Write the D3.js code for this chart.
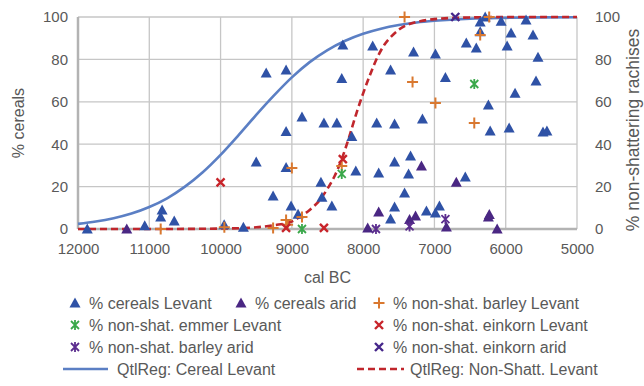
<!DOCTYPE html>
<html><head><meta charset="utf-8">
<script src="https://cdn.jsdelivr.net/npm/d3@7"></script>
<style>body{margin:0;background:#fff}svg{display:block;font-family:"Liberation Sans",Arial,sans-serif}</style>
</head><body><svg id="c" width="644" height="386"></svg>
<script>
// ---- data: [year cal BC, percent] ----
const xTicks = [12000, 11000, 10000, 9000, 8000, 7000, 6000, 5000];
const yTicks = [0, 20, 40, 60, 80, 100];
const cerealsLevant = [[11870,0],[11064,1.5],[10820,9],[10840,5.7],[10650,3.8],[9950,2],[9680,0.8],[9500,31.6],
 [9360,73.6],[9081,75],[9081,46],[9081,29],[9263,15.6],[9011,10.8],[8913,7],[8858,52.8],[8592,22],[8578,15],
 [8550,50],[8369,50],[8439,10.8],[8285,86.8],[8300,71],[8159,43.6],[8103,27.4],[7866,86.3],[7810,50],[7782,26.4],
 [7615,75],[7559,49.5],[7559,31.6],[7559,10.4],[7615,4.7],[7335,34.4],[7363,26],[7419,17],[7293,83.5],[7168,51.9],
 [7112,8.5],[6986,82.5],[6986,7.5],[6930,10.8],[6846,71.5],[6567,24.5],[6553,87.7],[6413,85.4],[6358,97.6],[6358,93],
 [6288,100],[6243,58.5],[6218,46.2],[6064,98],[5980,86.3],[5952,47.6],[5925,92.5],[5869,64],[5715,98.6],[5617,91.5],
 [5575,69.8],[5547,81],[5477,45.8],[5422,46.2]];
const cerealsArid = [[11316,0],[7936,0.5],[7782,8],[7349,4.5],[7265,6.1],[7182,29.7],[6693,22],[6832,1],[6243,5.7],[6230,6.8],[6120,0]];
const barleyLevant = [[10840,0],[9947,0.8],[9263,0.5],[9081,4.2],[9060,2],[8858,5.7],[9000,28.8],[8300,29.7],
 [7419,100],[7307,69.3],[6986,59.4],[6441,50],[6358,91.5],[6232,100]];
const emmerLevant = [[8858,0],[8300,26],[6441,68.4]];
const einkornLevant = [[10000,22],[9081,0.5],[8550,0.5],[8285,33]];
const barleyArid = [[7820,0],[7349,1.2],[6846,4.7]];
const einkornArid = [[6707,100]];
const qtlCereal = [[12000,2.4],[11750,3.5],[11500,5.1],[11250,7.3],[11000,10.4],[10750,14.5],[10500,20],[10250,26.8],
 [10000,35],[9750,44.2],[9500,53.8],[9250,63],[9000,71.5],[8750,78.7],[8500,84.4],[8250,88.8],[8000,92.1],[7750,94.5],
 [7500,96.2],[7250,97.4],[7000,98.2],[6500,99.2],[6000,99.6],[5500,99.8],[5000,99.9]];
const qtlNonShatt = [[12000,0],[11000,0],[10000,0.2],[9500,0.8],[9250,1.8],[9000,3.5],[8900,5.5],[8750,9],[8600,14],
 [8500,19],[8400,25],[8300,33],[8200,43],[8100,54],[8000,64],[7900,73],[7800,81],[7700,87],[7600,91],[7500,94],
 [7400,96],[7200,98],[7000,99],[6500,99.8],[6000,100],[5000,100]];

// ---- layout ----
const svg = d3.select("#c");
const L = 78, R = 577, T = 17, B = 229;
const x = d3.scaleLinear().domain([12000, 5000]).range([L, R]);
const y = d3.scaleLinear().domain([0, 100]).range([B, T]);
const txt = "#595959";

// grid
svg.append("g").selectAll("line").data(xTicks).join("line")
  .attr("x1", d => x(d)).attr("x2", d => x(d)).attr("y1", T).attr("y2", B)
  .attr("stroke", "#c6c6c6").attr("stroke-width", 1.3);
svg.append("g").selectAll("line").data(yTicks).join("line")
  .attr("x1", L).attr("x2", R).attr("y1", d => y(d)).attr("y2", d => y(d))
  .attr("stroke", "#c6c6c6").attr("stroke-width", 1.3);
svg.append("line").attr("x1", L).attr("x2", L).attr("y1", T).attr("y2", B).attr("stroke", "#b3b3b3").attr("stroke-width", 2.5);
svg.append("line").attr("x1", L).attr("x2", R).attr("y1", B).attr("y2", B).attr("stroke", "#b3b3b3").attr("stroke-width", 2.5);

// axes
const ax = svg.append("g").attr("transform", `translate(0,${B})`)
  .call(d3.axisBottom(x).tickValues(xTicks).tickFormat(d3.format("d")).tickSize(0).tickPadding(14));
const ayl = svg.append("g").attr("transform", `translate(${L},0)`)
  .call(d3.axisLeft(y).tickValues(yTicks).tickSize(0).tickPadding(10));
const ayr = svg.append("g").attr("transform", `translate(${R},0)`)
  .call(d3.axisRight(y).tickValues(yTicks).tickSize(0).tickPadding(18));
[ax, ayl, ayr].forEach(g => {
  g.select(".domain").remove();
  g.selectAll("text").attr("fill", txt).style("font-size", "15px").style("font-family", '"Liberation Sans",Arial,sans-serif');
});

svg.append("text").attr("x", (L + R) / 2).attr("y", 283).attr("text-anchor", "middle")
  .attr("fill", txt).style("font-size", "16px").text("cal BC");
svg.append("text").attr("transform", `translate(24,${(T + B) / 2}) rotate(-90)`).attr("text-anchor", "middle")
  .attr("fill", txt).style("font-size", "16px").text("% cereals");
svg.append("text").attr("transform", `translate(639,130) rotate(-90)`).attr("text-anchor", "middle")
  .attr("fill", txt).style("font-size", "17.5px").text("% non-shattering rachises");

// curves
const line = d3.line().x(d => x(d[0])).y(d => y(d[1])).curve(d3.curveMonotoneX);
svg.append("path").datum(qtlCereal).attr("d", line).attr("fill", "none").attr("stroke", "#5b7fc4").attr("stroke-width", 2.6);
svg.append("path").datum(qtlNonShatt).attr("d", line).attr("fill", "none").attr("stroke", "#c0262c")
  .attr("stroke-width", 2.6).attr("stroke-dasharray", "7,4");

// marker painters
function tri(g, cx, cy, col) {
  g.append("path").attr("transform", `translate(${cx},${cy})`).attr("d", "M0,-5.5L5.5,4.5L-5.5,4.5Z").attr("fill", col);
}
function plus(g, cx, cy, col) {
  g.append("path").attr("transform", `translate(${cx},${cy})`).attr("d", "M-5.5,0H5.5M0,-5.5V5.5")
    .attr("stroke", col).attr("stroke-width", 2).attr("fill", "none");
}
function cross(g, cx, cy, col) {
  g.append("path").attr("transform", `translate(${cx},${cy})`).attr("d", "M-4,-4L4,4M-4,4L4,-4")
    .attr("stroke", col).attr("stroke-width", 2.4).attr("fill", "none");
}
function star(g, cx, cy, col) {
  g.append("path").attr("transform", `translate(${cx},${cy})`).attr("d", "M-4,-4L4,4M-4,4L4,-4M0,-5V5")
    .attr("stroke", col).attr("stroke-width", 1.8).attr("fill", "none");
}
const series = [
  {data: cerealsLevant, f: tri, col: "#2f52a6", label: "% cereals Levant"},
  {data: cerealsArid, f: tri, col: "#4a2783", label: "% cereals arid"},
  {data: barleyLevant, f: plus, col: "#d9782f", label: "% non-shat. barley Levant"},
  {data: emmerLevant, f: star, col: "#3aa84a", label: "% non-shat. emmer Levant"},
  {data: einkornLevant, f: cross, col: "#c8242a", label: "% non-shat. einkorn Levant"},
  {data: barleyArid, f: star, col: "#5b2d8e", label: "% non-shat. barley arid"},
  {data: einkornArid, f: cross, col: "#45268a", label: "% non-shat. einkorn arid"}
];
const pts = svg.append("g");
series.forEach(s => s.data.forEach(d => s.f(pts, x(d[0]), y(d[1]), s.col)));

// legend
const lg = svg.append("g").style("font-size", "16px");
const r1 = 303, dr = 22;
const legPos = [[75, r1], [241, r1], [379, r1], [75, r1 + dr], [379, r1 + dr], [75, r1 + 2 * dr], [379, r1 + 2 * dr]];
series.forEach((s, i) => {
  const [lx, ly] = legPos[i];
  s.f(lg, lx, ly, s.col);
  lg.append("text").attr("x", lx + 14).attr("y", ly + 5.5).attr("fill", txt).text(s.label);
});
const r4 = r1 + 3 * dr;
lg.append("line").attr("x1", 63).attr("x2", 108).attr("y1", r4).attr("y2", r4).attr("stroke", "#5b7fc4").attr("stroke-width", 2.6);
lg.append("text").attr("x", 117).attr("y", r4 + 5.5).attr("fill", txt).text("QtlReg: Cereal Levant");
lg.append("line").attr("x1", 357).attr("x2", 404).attr("y1", r4).attr("y2", r4).attr("stroke", "#c0262c")
  .attr("stroke-width", 2.6).attr("stroke-dasharray", "7,4");
lg.append("text").attr("x", 410).attr("y", r4 + 5.5).attr("fill", txt).text("QtlReg: Non-Shatt. Levant");
</script></body></html>
